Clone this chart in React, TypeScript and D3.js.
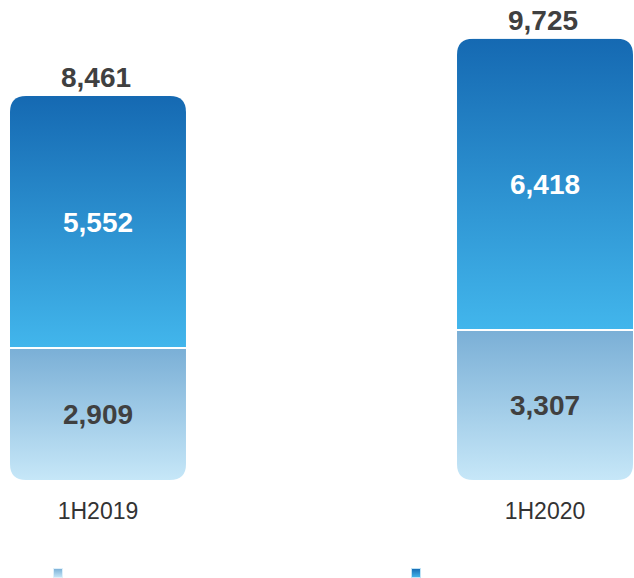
import React from "react";
import * as d3 from "d3";

const categories = ["1H2019", "1H2020"];
const bottomValues = [2909, 3307];
const topValues = [5552, 6418];
const totals = [8461, 9725];
const legendLabels = ["", ""];

const W = 634;
const H = 578;

function roundedPath(x: number, y: number, w: number, h: number, r: number) {
  return `M${x},${y + r} Q${x},${y} ${x + r},${y} L${x + w - r},${y} Q${x + w},${y} ${x + w},${y + r} L${x + w},${y + h - r} Q${x + w},${y + h} ${x + w - r},${y + h} L${x + r},${y + h} Q${x},${y + h} ${x},${y + h - r} Z`;
}

export default function App() {
  const x = d3.scaleBand<string>().domain(categories).range([10, 633]).paddingInner(0.6063).paddingOuter(0);
  const y = d3.scaleLinear().domain([0, 10000]).range([480, 26.15]);
  const bw = x.bandwidth();
  const font = "'Liberation Sans', Arial, sans-serif";
  return (
    <svg width={W} height={H} style={{ position: "absolute", left: 0, top: 0 }} fontFamily={font}>
      <defs>
        <linearGradient id="gTop" x1="0" y1="0" x2="0" y2="1">
          <stop offset="0" stopColor="#1569b2" />
          <stop offset="1" stopColor="#42b6ec" />
        </linearGradient>
        <linearGradient id="gBot" x1="0" y1="0" x2="0" y2="1">
          <stop offset="0" stopColor="#7aafd6" />
          <stop offset="1" stopColor="#c6e7f8" />
        </linearGradient>
        {categories.map((c, i) => (
          <clipPath id={`clip${i}`} key={c}>
            <path d={roundedPath(x(c)!, y(totals[i]), bw, y(0) - y(totals[i]), 16)} />
          </clipPath>
        ))}
      </defs>
      {categories.map((c, i) => {
        const bx = x(c)!;
        const cx = bx + bw / 2;
        const ySplit = y(bottomValues[i]);
        const yTop = y(bottomValues[i] + topValues[i]);
        return (
          <g key={c}>
            <g clipPath={`url(#clip${i})`}>
              <rect x={bx} y={yTop} width={bw} height={ySplit - yTop} fill="url(#gTop)" />
              <rect x={bx} y={ySplit} width={bw} height={y(0) - ySplit} fill="url(#gBot)" />
              <line x1={bx} x2={bx + bw} y1={ySplit} y2={ySplit} stroke="#fff" strokeWidth={2} />
            </g>
            <text x={cx} y={(yTop + ySplit) / 2} dy="0.36em" textAnchor="middle" fontSize={28} fontWeight="bold" fill="#ffffff">
              {d3.format(",")(topValues[i])}
            </text>
            <text x={cx} y={(ySplit + y(0)) / 2} dy="0.36em" textAnchor="middle" fontSize={28} fontWeight="bold" fill="#404040">
              {d3.format(",")(bottomValues[i])}
            </text>
            <text x={cx - 2} y={y(totals[i]) - 9} textAnchor="middle" fontSize={28} fontWeight="bold" fill="#404040">
              {d3.format(",")(totals[i])}
            </text>
            <text x={cx} y={519} textAnchor="middle" fontSize={23} fill="#333333">
              {c}
            </text>
          </g>
        );
      })}
      <g>
        <rect x={53.5} y={568.5} width={9} height={9} fill="url(#gBot)" stroke="#dff0fa" strokeWidth={1} />
        <text x={68} y={577} fontSize={12} fill="#333">{legendLabels[0]}</text>
        <rect x={411.5} y={568.5} width={9} height={9} fill="url(#gTop)" stroke="#bfe3f6" strokeWidth={1} />
        <text x={426} y={577} fontSize={12} fill="#333">{legendLabels[1]}</text>
      </g>
    </svg>
  );
}
